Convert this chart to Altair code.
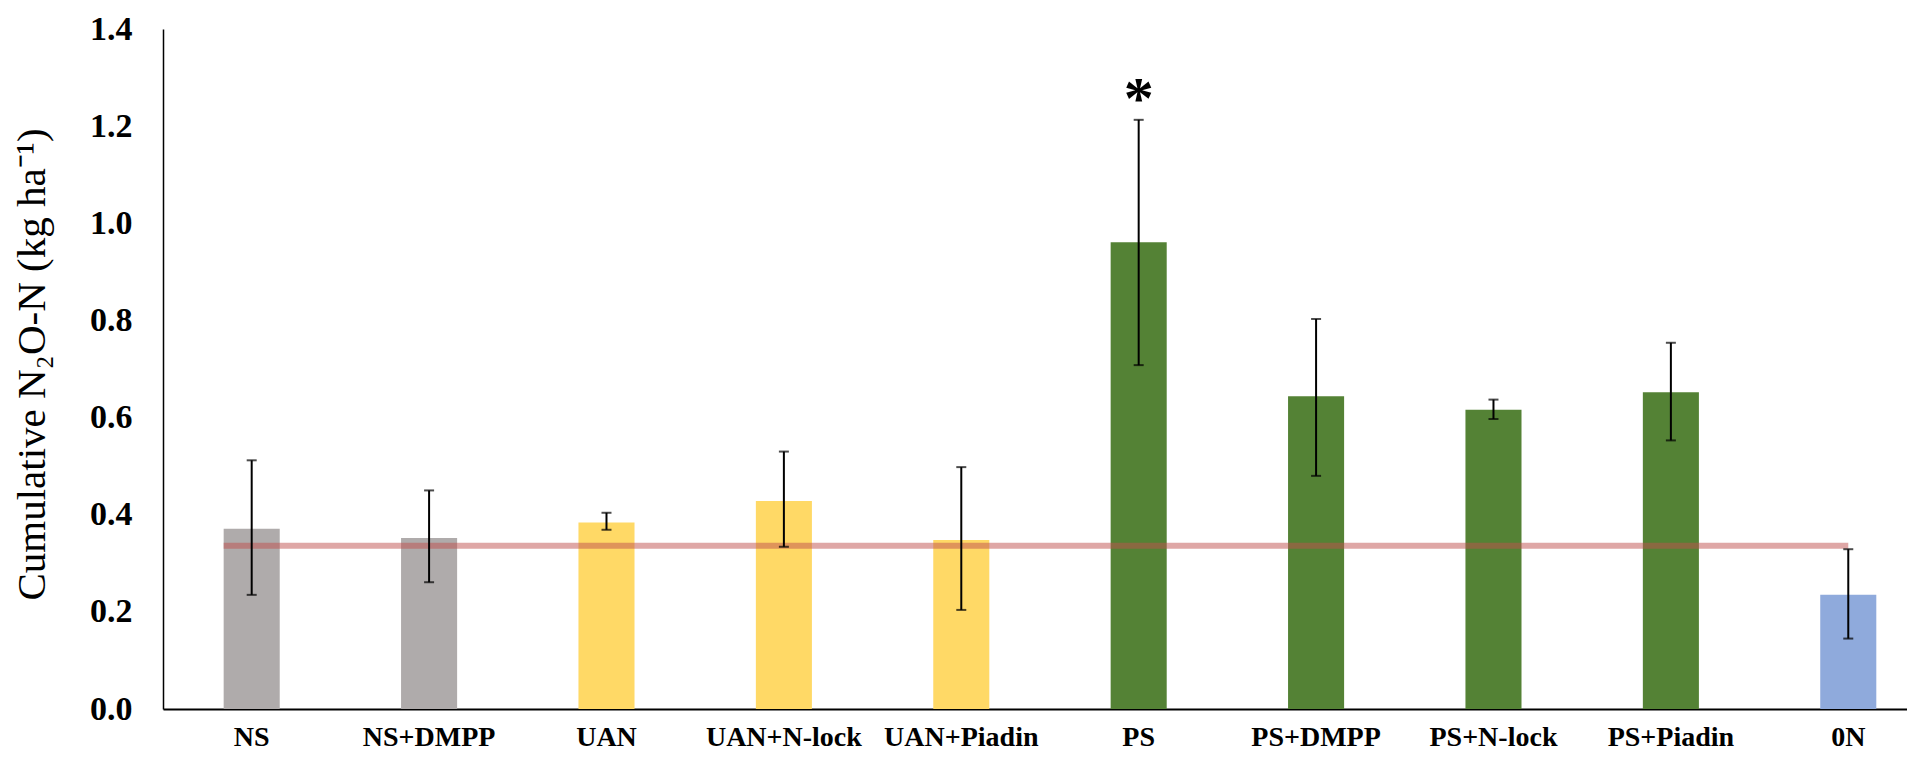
import altair as alt
import pandas as pd

# ---- data ----
treatments = ["NS", "NS+DMPP", "UAN", "UAN+N-lock", "UAN+Piadin",
              "PS", "PS+DMPP", "PS+N-lock", "PS+Piadin", "0N"]
means = [0.371, 0.352, 0.384, 0.428, 0.348, 0.961, 0.644, 0.616, 0.652, 0.235]
err_low = [0.235, 0.261, 0.369, 0.334, 0.204, 0.708, 0.480, 0.597, 0.553, 0.145]
err_high = [0.512, 0.450, 0.404, 0.530, 0.498, 1.213, 0.803, 0.637, 0.754, 0.329]
signif = ["", "", "", "", "", "*", "", "", "", ""]
bar_colors = ["#AFABAB", "#AFABAB", "#FFD966", "#FFD966", "#FFD966",
              "#548235", "#548235", "#548235", "#548235", "#8FAADC"]
ref_value = 0.336
ref_from = "NS"
ref_to = "0N"
y_ticks = [0.0, 0.2, 0.4, 0.6, 0.8, 1.0, 1.2, 1.4]

df = pd.DataFrame({
    "Treatment": treatments,
    "mean": means,
    "lo": err_low,
    "hi": err_high,
    "sig": signif,
})
ref_df = pd.DataFrame({"start": [ref_from], "end": [ref_to], "ref": [ref_value]})

SERIF = "Liberation Serif"

x_scale = alt.Scale(domain=treatments, paddingInner=0.684, paddingOuter=0.2575, align=0.664)
y_scale = alt.Scale(domain=[0, 1.4], nice=False, zero=True)

x_enc = alt.X(
    "Treatment:N",
    scale=x_scale,
    sort=treatments,
    axis=alt.Axis(
        title=None, labelAngle=0, ticks=False, grid=False, labelFont=SERIF,
        labelFontWeight="bold", labelFontSize=28, labelColor="black", labelPadding=14,
        labelBaseline="top", labelOverlap=False,
        domainColor="black", domainWidth=2,
    ),
)
y_enc = alt.Y(
    "mean:Q",
    scale=y_scale,
    axis=alt.Axis(
        title="Cumulative N₂O-N (kg ha⁻¹)", values=y_ticks, format=".1f", grid=False,
        ticks=False, labelFont=SERIF, labelFontWeight="bold", labelFontSize=34,
        labelColor="black", labelPadding=31, domainColor="black", domainWidth=1.5,
        titleFont=SERIF, titleFontWeight="normal", titleFontSize=41, titleColor="black",
        titleX=-119, titleY=335, titleBaseline="alphabetic",
    ),
)

base = alt.Chart(df)

bars = base.mark_bar().encode(
    x=x_enc,
    y=y_enc,
    color=alt.Color("Treatment:N", scale=alt.Scale(domain=treatments, range=bar_colors), legend=None),
)

ref_line = alt.Chart(ref_df).mark_rule(color="#C0504D", opacity=0.5, strokeWidth=6).encode(
    x=alt.X("start:N", scale=x_scale, bandPosition=0),
    x2=alt.X2("end"),
    y=alt.Y("ref:Q", scale=y_scale),
)

x_sec = alt.X("Treatment:N", scale=x_scale, sort=treatments)

err_rule = base.mark_rule(color="black", strokeWidth=2).encode(
    x=x_sec,
    y=alt.Y("lo:Q", scale=y_scale),
    y2="hi:Q",
)
cap_lo = base.mark_tick(color="black", size=10, thickness=2).encode(
    x=x_sec,
    y=alt.Y("lo:Q", scale=y_scale),
)
cap_hi = base.mark_tick(color="black", size=10, thickness=2).encode(
    x=x_sec,
    y=alt.Y("hi:Q", scale=y_scale),
)
stars = base.mark_text(font=SERIF, fontWeight="bold", fontSize=60, dy=-2,
                       baseline="alphabetic", color="black").encode(
    x=x_sec,
    y=alt.Y("hi:Q", scale=y_scale),
    text="sig:N",
)

chart = alt.layer(bars, ref_line, err_rule, cap_lo, cap_hi, stars).properties(
    width=1744,
    height=680,
    background="white",
    autosize=alt.AutoSizeParams(type="none"),
    padding={"left": 155, "top": 21, "right": 0, "bottom": 41},
).configure_view(strokeWidth=0).configure_axis(grid=False)

chart.save("out.html", embed_options={"renderer": "svg", "actions": False})
